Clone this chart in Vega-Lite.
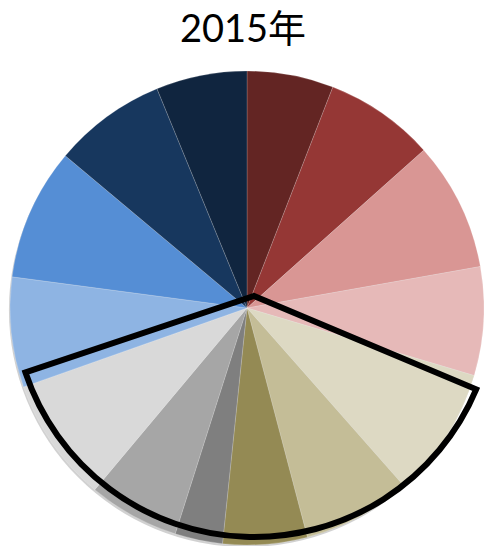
{
  "$schema": "https://vega.github.io/schema/vega-lite/v6.json",
  "autosize": "none",
  "width": 474,
  "height": 476,
  "padding": {"top": 70, "left": 10, "right": 0, "bottom": 0},
  "background": "white",
  "title": {
    "text": "2015年",
    "font": "Lato, 'Noto Sans CJK SC'",
    "fontSize": 38,
    "fontWeight": "normal",
    "color": "#000000",
    "baseline": "alphabetic",
    "offset": -9.5,
    "dx": -4
  },
  "view": {"stroke": null},
  "layer": [
    {
      "data": {"values": [{"start": 0, "end": 100}]},
      "mark": {"type": "arc", "radius": 237, "fill": "#8c8c8c", "opacity": 0.4, "xOffset": -1, "yOffset": 2},
      "encoding": {
        "theta": {"field": "start", "type": "quantitative", "scale": {"domain": [0, 100]}},
        "theta2": {"field": "end"}
      }
    },
    {
      "data": {
        "values": [
          {"i": 1, "cat": "类别1", "v": 5.9},
          {"i": 2, "cat": "类别2", "v": 7.5},
          {"i": 3, "cat": "类别3", "v": 8.8},
          {"i": 4, "cat": "类别4", "v": 7.4},
          {"i": 5, "cat": "类别5", "v": 8.9},
          {"i": 6, "cat": "类别6", "v": 7.4},
          {"i": 7, "cat": "类别7", "v": 5.75},
          {"i": 8, "cat": "类别8", "v": 3.25},
          {"i": 9, "cat": "类别9", "v": 6.2},
          {"i": 10, "cat": "类别10", "v": 8.5},
          {"i": 11, "cat": "类别11", "v": 7.5},
          {"i": 12, "cat": "类别12", "v": 9.0},
          {"i": 13, "cat": "类别13", "v": 7.7},
          {"i": 14, "cat": "类别14", "v": 6.2}
        ]
      },
      "mark": {"type": "arc", "radius": 237, "stroke": "#ffffff", "strokeWidth": 0.5, "strokeOpacity": 0.35},
      "encoding": {
        "theta": {"field": "v", "type": "quantitative", "stack": true, "scale": {"domain": [0, 100]}},
        "order": {"field": "i", "type": "quantitative"},
        "color": {
          "field": "cat",
          "type": "nominal",
          "legend": null,
          "scale": {
            "domain": ["类别1", "类别2", "类别3", "类别4", "类别5", "类别6", "类别7", "类别8", "类别9", "类别10", "类别11", "类别12", "类别13", "类别14"],
            "range": ["#632523", "#953735", "#D99694", "#E6B9B8", "#DDD9C3", "#C4BD97", "#948A54", "#7F7F7F", "#A6A6A6", "#D9D9D9", "#8EB4E3", "#558ED5", "#17375E", "#10253F"]
          }
        }
      }
    },
    {
      "data": {"values": [{"start": 31.33, "end": 69.86}]},
      "mark": {"type": "arc", "radius": 241, "fillOpacity": 0, "fill": "white", "stroke": "#000000", "strokeWidth": 6, "strokeJoin": "miter", "xOffset": 7, "yOffset": -12},
      "encoding": {
        "theta": {"field": "start", "type": "quantitative", "scale": {"domain": [0, 100]}},
        "theta2": {"field": "end"}
      }
    }
  ]
}
